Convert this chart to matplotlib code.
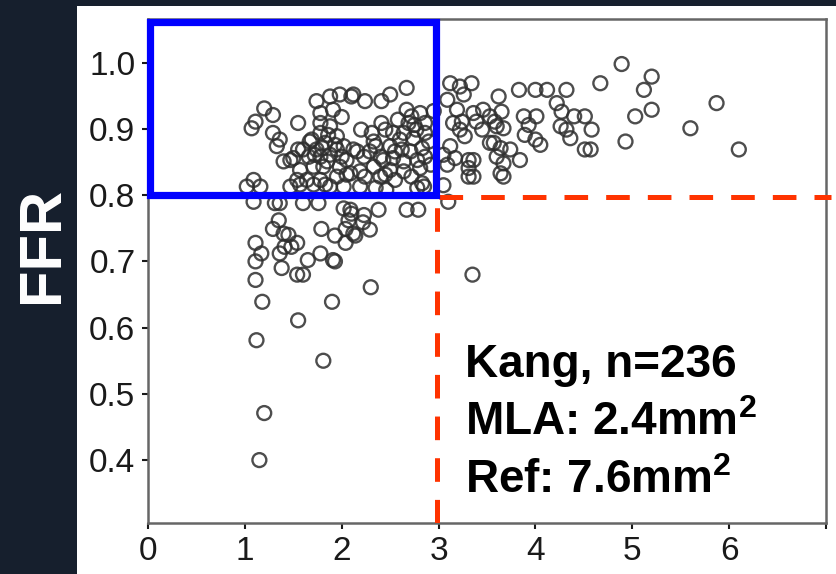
import matplotlib.pyplot as plt
from matplotlib.patches import Rectangle

plt.rcParams['font.family'] = ['Liberation Sans', 'DejaVu Sans']
plt.rcParams['lines.scale_dashes'] = False
plt.rcParams['mathtext.fontset'] = 'custom'
plt.rcParams['mathtext.rm'] = 'Liberation Sans:bold'
plt.rcParams['mathtext.it'] = 'Liberation Sans:bold'
plt.rcParams['mathtext.bf'] = 'Liberation Sans:bold'

# MLA (mm2) vs FFR
mla = [1.15, 1.20, 1.12, 1.81, 1.55, 1.18, 1.90, 2.30, 3.35, 1.11,
       1.38, 1.54, 1.60, 1.11, 1.17, 1.11, 1.36, 1.65, 1.78, 1.91,
       1.93, 1.45, 1.54, 1.48, 1.40, 1.29, 1.35, 1.79, 1.93, 2.04,
       2.07, 2.12, 2.04, 2.22, 2.29, 2.23, 2.14, 2.10, 2.02, 2.09,
       2.38, 2.67, 2.79, 1.09, 1.31, 1.36, 1.60, 1.76, 3.10, 1.41,
       1.02, 1.09, 1.16, 1.47, 1.57, 1.71, 1.83, 1.88, 2.02, 2.19,
       2.35, 2.46, 2.78, 2.85, 3.05, 1.54, 1.64, 1.78, 1.95, 2.09,
       2.24, 2.40, 2.55, 2.72, 2.83, 3.31, 3.36, 3.67, 3.64, 1.57,
       1.71, 1.81, 1.98, 2.05, 2.19, 2.33, 2.50, 2.64, 2.81, 3.09,
       3.31, 1.40, 1.47, 1.55, 1.66, 1.78, 1.88, 2.05, 2.16, 2.23,
       2.43, 2.53, 2.64, 2.78, 2.86, 3.17, 3.31, 3.36, 3.60, 3.67,
       3.84, 1.60, 1.74, 1.95, 2.02, 2.12, 2.29, 2.35, 2.50, 2.62,
       2.71, 2.83, 3.12, 3.53, 3.64, 3.74, 4.05, 4.00, 4.36, 4.51,
       4.57, 4.93, 6.10, 1.33, 1.36, 1.67, 1.83, 1.29, 1.78, 1.95,
       2.31, 2.20, 2.41, 2.53, 2.64, 2.74, 2.77, 2.86, 3.27, 3.22,
       3.45, 3.89, 4.32, 4.58, 5.60, 1.07, 1.11, 1.20, 1.29, 1.55,
       1.78, 1.88, 1.78, 1.91, 2.45, 2.67, 2.72, 2.69, 2.81, 2.86,
       3.15, 3.19, 3.36, 3.39, 3.46, 3.53, 3.58, 3.60, 3.67, 3.65,
       3.88, 4.01, 3.93, 4.26, 4.27, 4.40, 4.51, 5.03, 5.20, 5.87,
       1.74, 1.88, 1.98, 2.10, 2.24, 2.12, 2.41, 2.50, 2.67, 3.09,
       3.12, 3.22, 3.26, 3.34, 3.62, 3.83, 4.00, 4.12, 4.32, 4.22,
       4.67, 4.89, 5.20, 5.12, 1.72, 1.85, 1.93, 1.69, 2.00, 1.80,
       2.55, 2.60, 2.40, 2.75, 2.90, 2.92, 2.58, 2.33, 2.45, 1.50,
       1.86, 2.00, 3.24, 3.05, 2.95, 3.57]
ffr = [0.400, 0.471, 0.581, 0.550, 0.611, 0.639, 0.639, 0.661, 0.680, 0.672,
       0.690, 0.680, 0.680, 0.700, 0.712, 0.728, 0.712, 0.702, 0.712, 0.702,
       0.700, 0.740, 0.728, 0.722, 0.742, 0.749, 0.762, 0.749, 0.739, 0.749,
       0.762, 0.742, 0.728, 0.759, 0.748, 0.770, 0.739, 0.772, 0.780, 0.778,
       0.778, 0.778, 0.778, 0.790, 0.788, 0.788, 0.788, 0.788, 0.790, 0.722,
       0.813, 0.823, 0.813, 0.813, 0.816, 0.816, 0.816, 0.813, 0.813, 0.813,
       0.811, 0.808, 0.811, 0.813, 0.815, 0.823, 0.823, 0.823, 0.828, 0.833,
       0.828, 0.828, 0.823, 0.828, 0.818, 0.828, 0.828, 0.828, 0.833, 0.838,
       0.843, 0.843, 0.843, 0.831, 0.836, 0.843, 0.838, 0.836, 0.841, 0.846,
       0.841, 0.851, 0.853, 0.869, 0.858, 0.858, 0.861, 0.853, 0.866, 0.858,
       0.853, 0.856, 0.851, 0.853, 0.858, 0.856, 0.853, 0.853, 0.858, 0.848,
       0.853, 0.869, 0.869, 0.869, 0.874, 0.869, 0.866, 0.874, 0.874, 0.869,
       0.866, 0.871, 0.874, 0.879, 0.871, 0.869, 0.876, 0.884, 0.886, 0.869,
       0.869, 0.881, 0.869, 0.874, 0.884, 0.881, 0.879, 0.894, 0.894, 0.889,
       0.894, 0.899, 0.909, 0.894, 0.894, 0.886, 0.899, 0.894, 0.889, 0.899,
       0.899, 0.891, 0.899, 0.899, 0.901, 0.901, 0.911, 0.931, 0.921, 0.909,
       0.909, 0.904, 0.924, 0.929, 0.899, 0.929, 0.919, 0.909, 0.924, 0.909,
       0.909, 0.929, 0.924, 0.911, 0.929, 0.919, 0.911, 0.904, 0.901, 0.926,
       0.919, 0.919, 0.906, 0.904, 0.926, 0.919, 0.919, 0.919, 0.929, 0.939,
       0.942, 0.949, 0.952, 0.949, 0.942, 0.952, 0.942, 0.952, 0.962, 0.944,
       0.969, 0.964, 0.952, 0.969, 0.949, 0.959, 0.959, 0.959, 0.959, 0.939,
       0.969, 0.998, 0.979, 0.959, 0.861, 0.851, 0.876, 0.884, 0.858, 0.871,
       0.866, 0.884, 0.858, 0.906, 0.881, 0.846, 0.914, 0.881, 0.831, 0.856,
       0.891, 0.918, 0.911, 0.861, 0.927, 0.879]

xticks = [0, 1, 2, 3, 4, 5, 6, 7]
xticklabels = ['0', '1', '2', '3', '4', '5', '6', '']
yticks = [0.4, 0.5, 0.6, 0.7, 0.8, 0.9, 1.0]
yticklabels = ['0.4', '0.5', '0.6', '0.7', '0.8', '0.9', '1.0']
mla_cut = 3.0
ffr_cut = 0.8
notes = ['Kang, n=236', 'MLA: 2.4mm$^{2}$', 'Ref: 7.6mm$^{2}$']

fig = plt.figure(figsize=(8.36, 5.74), dpi=100)
fig.patch.set_facecolor('#161f2d')
# white panel behind the plot
fig.patches.append(Rectangle((77 / 836, 0), 1, 568 / 574, transform=fig.transFigure,
                             facecolor='white', edgecolor='none', zorder=-10))

ax = fig.add_axes([148 / 836, 51 / 574, 678 / 836, 504 / 574])
ax.set_facecolor('white')
ax.scatter(mla, ffr, s=100, facecolors='none', edgecolors='#2e2e2e',
           linewidths=1.7, alpha=0.85, zorder=2)

ax.set_xlim(0, 7)
ax.set_ylim(0.305, 1.066)
ax.set_xticks(xticks)
ax.set_xticklabels(xticklabels)
ax.set_yticks(yticks)
ax.set_yticklabels(yticklabels)
ax.tick_params(labelsize=24, colors='#1a1a1a', length=4, width=1.5, pad=5)
for s in ax.spines.values():
    s.set_color('#666666')
    s.set_linewidth(1.8)

# red dashed cut-off lines
ax.plot([mla_cut, 7.05], [0.797, 0.797], color='#ff3300', lw=3.6,
        dashes=(17, 13), zorder=3, clip_on=False)
ax.plot([2.985, 2.985], [0.305, 0.797], color='#ff3300', lw=3.6,
        dashes=(17, 13), zorder=3)

# blue box
ax.add_patch(Rectangle((0.02, ffr_cut), mla_cut - 0.05, 0.262, fill=False,
                       edgecolor='#0000ff', lw=5.2, zorder=4, clip_on=False))

for i, t in enumerate(notes):
    ax.text(3.27, 0.544 - i * 0.0877, t, fontsize=33, fontweight='bold',
            color='black', ha='left', va='center', zorder=5)

fig.text(42 / 836, 1 - 245 / 574, 'FFR', rotation=90, color='white',
         fontsize=43, fontweight='bold', ha='center', va='center')

fig.savefig('out.png', dpi=100, facecolor=fig.get_facecolor())
